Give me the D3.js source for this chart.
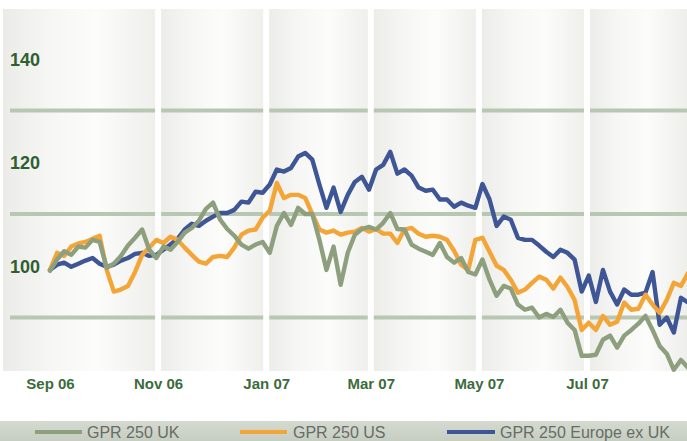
<!DOCTYPE html>
<html><head><meta charset="utf-8">
<script src="https://cdn.jsdelivr.net/npm/d3@7"></script>
<style>html,body{margin:0;padding:0;background:#fff;overflow:hidden}</style>
</head><body><svg id="c" width="687" height="441"></svg>
<script>
const dates = ["2006-09-01","2006-09-05","2006-09-09","2006-09-13","2006-09-17","2006-09-21","2006-09-25","2006-09-29",
"2006-10-03","2006-10-07","2006-10-11","2006-10-15","2006-10-19","2006-10-23","2006-10-27","2006-10-31",
"2006-11-04","2006-11-08","2006-11-12","2006-11-16","2006-11-20","2006-11-24","2006-11-28",
"2006-12-02","2006-12-06","2006-12-10","2006-12-14","2006-12-18","2006-12-22","2006-12-26","2006-12-30",
"2007-01-03","2007-01-07","2007-01-11","2007-01-15","2007-01-19","2007-01-23","2007-01-27","2007-01-31",
"2007-02-04","2007-02-08","2007-02-12","2007-02-16","2007-02-20","2007-02-24","2007-02-28",
"2007-03-04","2007-03-08","2007-03-12","2007-03-16","2007-03-20","2007-03-24","2007-03-28",
"2007-04-01","2007-04-05","2007-04-09","2007-04-13","2007-04-17","2007-04-21","2007-04-25","2007-04-29",
"2007-05-03","2007-05-07","2007-05-11","2007-05-15","2007-05-19","2007-05-23","2007-05-27","2007-05-31",
"2007-06-04","2007-06-08","2007-06-12","2007-06-16","2007-06-20","2007-06-24","2007-06-28",
"2007-07-02","2007-07-06","2007-07-10","2007-07-14","2007-07-18","2007-07-22","2007-07-26","2007-07-30",
"2007-08-03","2007-08-07","2007-08-11","2007-08-15","2007-08-19","2007-08-23","2007-08-27"];

const seriesNames = ["GPR 250 UK","GPR 250 US","GPR 250 Europe ex UK"];

const ukValues = [99.0,101.2,102.8,102.1,103.7,103.5,105.0,104.6,99.6,100.4,
101.9,103.9,105.4,107.0,103.1,101.5,103.7,103.1,104.6,106.4,
107.3,108.7,111.0,112.2,108.9,107.1,105.8,104.1,103.3,104.1,
104.6,102.5,107.7,110.2,107.9,111.2,110.0,110.0,105.0,99.2,
103.7,96.3,102.5,106.0,107.1,107.5,107.0,108.3,110.2,107.1,
107.0,104.1,103.3,102.7,102.1,104.4,101.7,100.6,101.5,98.8,
98.3,101.2,97.3,94.2,96.1,95.6,92.5,91.5,91.9,90.0,
90.7,90.1,91.5,89.0,87.6,82.6,82.6,82.8,85.7,86.5,
84.2,86.5,87.6,88.8,90.3,87.6,84.5,83.0,79.9,81.8,
80.3];

const usValues = [99.2,102.5,101.9,103.7,104.3,104.6,105.2,105.8,99.2,95.0,
95.4,96.1,98.8,102.1,103.5,105.0,104.4,105.6,105.0,103.5,
102.1,100.8,100.4,101.7,101.9,101.7,103.5,106.0,106.8,107.0,
109.3,110.6,116.0,113.1,113.7,113.7,113.1,110.0,107.0,106.4,
106.8,106.0,106.4,106.6,107.3,106.6,107.1,106.2,106.2,104.4,
107.0,107.3,106.2,105.6,105.8,105.6,105.0,102.9,100.2,99.2,
105.0,105.4,102.7,100.0,99.2,97.3,94.8,95.4,96.7,97.9,
97.3,95.6,97.7,95.9,93.4,87.6,89.0,87.6,90.3,88.6,
89.2,92.9,91.5,91.7,94.4,92.5,90.9,93.4,96.7,96.1,
98.6];

const euValues = [99.2,100.2,100.6,99.8,100.4,101.0,101.5,100.4,99.8,100.2,
101.0,101.5,102.3,102.5,101.9,102.1,103.1,104.1,105.2,107.0,
108.1,107.7,108.7,109.5,110.2,110.2,110.8,112.4,112.2,114.3,
114.1,115.7,118.6,118.2,118.9,121.1,121.8,120.5,115.7,111.2,
115.1,110.4,113.7,116.2,117.2,114.7,118.6,119.5,122.0,117.8,
118.6,117.4,115.1,114.5,114.7,112.8,112.8,111.4,112.2,111.6,
111.2,115.8,112.8,107.7,109.5,108.9,105.4,105.0,105.0,103.9,
102.7,101.7,103.1,102.5,101.2,95.0,98.1,93.0,99.2,95.0,
92.5,95.4,94.4,94.4,94.8,98.8,88.6,90.0,87.1,93.8,
92.9];

const xTickDates = ["2006-09-01","2006-11-01","2007-01-01","2007-03-01","2007-05-01","2007-07-01"];
const xTickLabels = ["Sep 06","Nov 06","Jan 07","Mar 07","May 07","Jul 07"];
const yTickValues = [100,120,140];
const gridValues = [90,110,130];

const parse = d3.timeParse("%Y-%m-%d");
const svg = d3.select("#c");
const FONT = "'Liberation Sans', Arial, Helvetica, sans-serif";

const x = d3.scaleTime().domain([parse("2006-09-01"), parse("2007-07-01")]).range([50, 587]);
const y = d3.scaleLinear().domain([90, 130]).range([317.5, 110.5]);

const plotTop = 9, plotBottom = 371, plotLeft = 3, plotRight = 687;

const defs = svg.append("defs");
const pg = defs.append("linearGradient").attr("id", "panel").attr("x1", "0").attr("x2", "1").attr("y1", "0").attr("y2", "0");
[["0%", "#ebebe8"], ["30%", "#f6f6f4"], ["60%", "#fcfcfb"], ["100%", "#eeeeeb"]].forEach(s => pg.append("stop").attr("offset", s[0]).attr("stop-color", s[1]));
const lg = defs.append("linearGradient").attr("id", "leg").attr("x1", "0").attr("x2", "0").attr("y1", "0").attr("y2", "1");
[["0%", "#d5dad0"], ["100%", "#c6cdc1"]].forEach(s => lg.append("stop").attr("offset", s[0]).attr("stop-color", s[1]));
defs.append("clipPath").attr("id", "clip").append("rect")
  .attr("x", plotLeft).attr("y", 0).attr("width", plotRight - plotLeft).attr("height", plotBottom + 4);

// panels
const bounds = [plotLeft].concat(xTickDates.slice(1).map(d => x(parse(d)))).concat([plotRight]);
const panels = d3.range(bounds.length - 1).map(i => [bounds[i], bounds[i + 1]]);
svg.append("g").selectAll("rect").data(panels).join("rect")
  .attr("x", d => d[0]).attr("y", plotTop).attr("width", d => d[1] - d[0]).attr("height", plotBottom - plotTop)
  .attr("fill", "url(#panel)");

// grid lines
svg.append("g").selectAll("line").data(gridValues).join("line")
  .attr("x1", 10).attr("x2", plotRight).attr("y1", d => y(d)).attr("y2", d => y(d))
  .attr("stroke", "#b7c7b1").attr("stroke-width", 4);

// white gaps
svg.append("g").selectAll("rect").data(bounds.slice(1, -1)).join("rect")
  .attr("x", d => d - 3).attr("y", plotTop).attr("width", 6).attr("height", plotBottom - plotTop)
  .attr("fill", "#ffffff");

// series
const series = [
  { name: seriesNames[2], values: euValues, color: "#3f5696" },
  { name: seriesNames[1], values: usValues, color: "#f4a537" },
  { name: seriesNames[0], values: ukValues, color: "#8e9f7e" }
];
const line = d3.line().x((d, i) => x(parse(dates[i]))).y(d => y(d));
svg.append("g").attr("clip-path", "url(#clip)").selectAll("path").data(series).join("path")
  .attr("d", d => line(d.values)).attr("fill", "none").attr("stroke", d => d.color)
  .attr("stroke-width", 4.4).attr("stroke-linejoin", "round").attr("stroke-linecap", "round");

// y labels
const yAxis = svg.append("g").attr("transform", "translate(10,0)")
  .call(d3.axisRight(y).tickValues(yTickValues).tickSize(0).tickPadding(0).tickFormat(d3.format("d")));
yAxis.select(".domain").remove();
yAxis.selectAll("text").attr("x", 0).attr("dy", "0.37em").attr("text-anchor", "start")
  .attr("fill", "#2f5e30").style("font-family", FONT).style("font-weight", "bold").style("font-size", "18px");

// x labels
const xAxis = svg.append("g")
  .call(d3.axisBottom(x).tickValues(xTickDates.map(parse)).tickSize(0).tickPadding(0)
    .tickFormat((d, i) => xTickLabels[i]));
xAxis.select(".domain").remove();
xAxis.selectAll("text").attr("y", 389).attr("dy", null)
  .attr("fill", "#3b6c3c").style("font-family", FONT).style("font-weight", "bold").style("font-size", "15px");

// legend band
svg.append("rect").attr("x", 0).attr("y", 421).attr("width", 687).attr("height", 20).attr("fill", "url(#leg)");
const legendItems = [
  { name: seriesNames[0], color: "#8e9f7e", x0: 35, x1: 82, tx: 87 },
  { name: seriesNames[1], color: "#f4a537", x0: 240, x1: 287, tx: 293 },
  { name: seriesNames[2], color: "#3f5696", x0: 447, x1: 495, tx: 500 }
];
const lgG = svg.append("g").selectAll("g").data(legendItems).join("g");
lgG.append("line").attr("x1", d => d.x0).attr("x2", d => d.x1).attr("y1", 432).attr("y2", 432)
  .attr("stroke", d => d.color).attr("stroke-width", 4);
lgG.append("text").attr("x", d => d.tx).attr("y", 437.5).text(d => d.name)
  .attr("fill", "#686c66").style("font-family", FONT).style("font-size", "16px");
</script></body></html>
